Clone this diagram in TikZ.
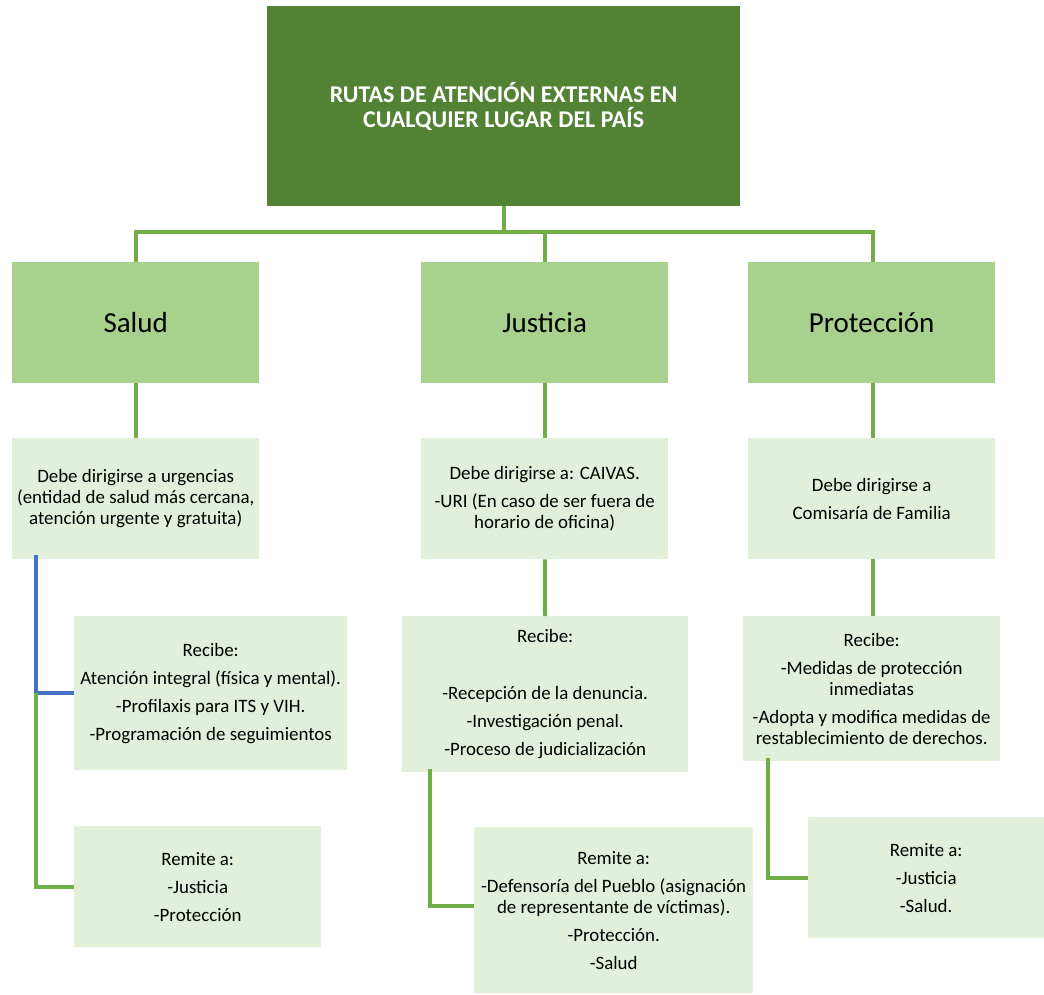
\documentclass[tikz,border=0pt]{standalone}
\usepackage{fontspec}
\setmainfont{Carlito}
\usepackage{xcolor}
\usetikzlibrary{positioning, calc}
\definecolor{titlegreen}{HTML}{548235}
\definecolor{midgreen}{HTML}{A9D18E}
\definecolor{palegreen}{HTML}{E2EFDA}
\definecolor{linegreen}{HTML}{70AD47}
\definecolor{lineblue}{HTML}{4472C4}
\tikzset{
  titlebox/.style={rectangle,fill=titlegreen,anchor=north west,inner sep=0pt,
    text=white,align=center,minimum width=473pt,minimum height=200pt,
    font=\fontsize{24}{25}\selectfont\bfseries},
  routebox/.style={rectangle,fill=midgreen,anchor=north west,inner sep=0pt,
    minimum width=247pt,minimum height=121pt,font=\fontsize{29}{35}\selectfont},
  infobox/.style={rectangle,fill=palegreen,anchor=north west,inner sep=0pt,
    align=center,font=\fontsize{18.9}{21}\selectfont},
  link/.style={draw=linegreen,line width=4pt},
  bluelink/.style={draw=lineblue,line width=3.5pt}
}
\begin{document}
\begin{tikzpicture}[x=1pt,y=-1pt]
  \useasboundingbox (0,0) rectangle (1044,995);
  \node[titlebox] (title) at (267,6)
    {RUTAS DE ATENCIÓN EXTERNAS EN\\ CUALQUIER LUGAR DEL PAÍS};

  \node[routebox] (salud) at (12,262) {Salud};
  \node[routebox] (just) at (421,262) {Justicia};
  \node[routebox] (prot) at (748,262) {Protección};

  \node[infobox, minimum width=247pt, minimum height=121pt] (saludA) at (12,438)
    {Debe dirigirse a urgencias\\ (entidad de salud más cercana,\\ atención urgente y gratuita)};
  \node[infobox, minimum width=247pt, minimum height=121pt] (justA) at (421,438)
    {Debe dirigirse a: CAIVAS.\\[7pt] -URI (En caso de ser fuera de\\ horario de oficina)};
  \node[infobox, minimum width=247pt, minimum height=121pt] (protA) at (748,438)
    {Debe dirigirse a\\[7pt] Comisaría de Familia};

  \node[infobox, minimum width=273pt, minimum height=154pt] (saludB) at (74,616)
    {Recibe:\\[7pt] Atención integral (física y mental).\\[7pt]
     -Profilaxis para ITS y VIH.\\[7pt] -Programación de seguimientos};
  \node[infobox, minimum width=247pt, minimum height=121pt] (saludC) at (74,826)
    {Remite a:\\[7pt] -Justicia\\[7pt] -Protección};

  \node[infobox, minimum width=286pt, minimum height=156pt] (justB) at (402,616)
    {Recibe:\\[36pt] -Recepción de la denuncia.\\[7pt]
     -Investigación penal.\\[7pt] -Proceso de judicialización};
  \node[infobox, minimum width=279pt, minimum height=166pt] (justC) at (474,827)
    {Remite a:\\[7pt] -Defensoría del Pueblo (asignación\\ de representante de víctimas).\\[7pt]
     -Protección.\\[7pt] -Salud};

  \node[infobox, minimum width=257pt, minimum height=145pt] (protB) at (743,616)
    {Recibe:\\[7pt] -Medidas de protección\\ inmediatas\\[7pt]
     -Adopta y modifica medidas de\\ restablecimiento de derechos.};
  \node[infobox, minimum width=236pt, minimum height=121pt] (protC) at (808,817)
    {Remite a:\\[7pt] -Justicia\\[7pt] -Salud.};

  \coordinate (bus) at (title.south |- 0,232);
  \draw[link] (title.south) -- (bus);
  \draw[link] (bus) -| (salud.north);
  \draw[link] (bus) -| (just.north);
  \draw[link] (bus) -| ([xshift=1.5pt]prot.north);
  \draw[link] (salud) -- (saludA);
  \draw[link] (just) -- (justA);
  \draw[link] ([xshift=1.5pt]prot.south) -- ([xshift=1.5pt]protA.north);
  \draw[link] (justA) -- (justB);
  \draw[link] ([xshift=1.5pt]protA.south) -- ([xshift=1.5pt]protB.north);
  \draw[bluelink] ([xshift=24pt,yshift=4pt]saludA.south west) |- coordinate[pos=0.5] (sfork) (saludB.west);
  \draw[link] (sfork) |- (saludC.west);
  \draw[link] ([xshift=28pt,yshift=3pt]justB.south west) |- ([yshift=4pt]justC.west);
  \draw[link] ([xshift=25pt,yshift=3pt]protB.south west) |- (protC.west);
\end{tikzpicture}
\end{document}
